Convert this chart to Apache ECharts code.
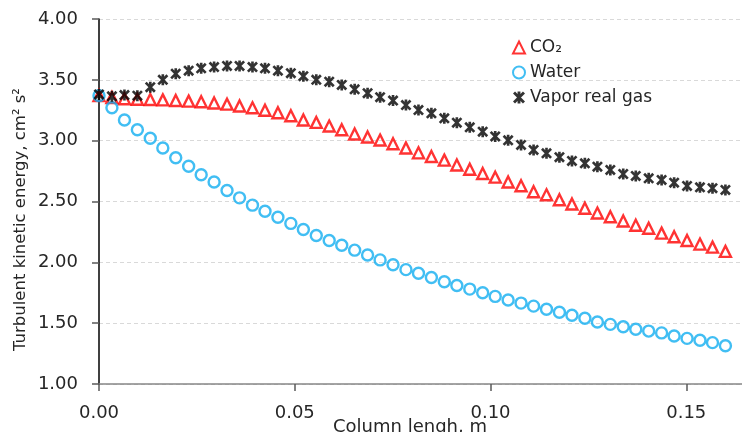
<!DOCTYPE html>
<html>
<head>
<meta charset="utf-8">
<script src="https://cdn.jsdelivr.net/npm/echarts@6/dist/echarts.min.js"></script>
<style>
html,body{margin:0;padding:0;background:#fff;}
#chart{width:742px;height:432px;}
</style>
</head>
<body>
<div id="chart"></div>
<script>
// Column length positions (m)
var columnLength = [0.0000,0.0033,0.0065,0.0098,0.0131,0.0163,0.0196,0.0229,0.0261,0.0294,
  0.0327,0.0359,0.0392,0.0424,0.0457,0.0490,0.0522,0.0555,0.0588,0.0620,
  0.0653,0.0686,0.0718,0.0751,0.0784,0.0816,0.0849,0.0882,0.0914,0.0947,
  0.0980,0.1012,0.1045,0.1078,0.1110,0.1143,0.1176,0.1208,0.1241,0.1273,
  0.1306,0.1339,0.1371,0.1404,0.1437,0.1469,0.1502,0.1535,0.1567,0.1600];

var co2 = [3.37,3.355,3.345,3.34,3.338,3.335,3.33,3.325,3.32,3.31,
  3.30,3.285,3.27,3.25,3.23,3.205,3.17,3.15,3.12,3.09,
  3.055,3.03,3.005,2.975,2.94,2.90,2.87,2.84,2.80,2.765,
  2.73,2.70,2.66,2.63,2.58,2.555,2.515,2.48,2.445,2.405,
  2.375,2.34,2.305,2.28,2.24,2.21,2.18,2.15,2.125,2.09];

var water = [3.37,3.27,3.17,3.09,3.02,2.94,2.86,2.79,2.72,2.66,
  2.59,2.53,2.47,2.42,2.37,2.32,2.27,2.22,2.18,2.14,
  2.10,2.06,2.02,1.98,1.94,1.91,1.875,1.84,1.81,1.78,
  1.75,1.72,1.69,1.665,1.64,1.615,1.59,1.565,1.54,1.51,
  1.49,1.47,1.45,1.435,1.42,1.395,1.375,1.36,1.34,1.315];

var vapor = [3.38,3.365,3.375,3.37,3.44,3.50,3.55,3.575,3.595,3.605,
  3.614,3.614,3.605,3.595,3.575,3.555,3.53,3.50,3.485,3.458,
  3.422,3.39,3.357,3.33,3.293,3.252,3.225,3.184,3.148,3.11,
  3.074,3.035,3.003,2.965,2.924,2.896,2.864,2.833,2.814,2.786,
  2.759,2.726,2.71,2.691,2.677,2.655,2.628,2.617,2.609,2.595];

var seriesNames = ['CO\u2082', 'Water', 'Vapor real gas'];
var xTickLabels = ['0.00', '0.05', '0.10', '0.15'];
var yTickLabels = ['1.00','1.50','2.00','2.50','3.00','3.50','4.00'];

function zip(xs, ys){ return xs.map(function(x,i){ return [x, ys[i]]; }); }

var starPath = 'path://M3.8,0L6.2,0L6.2,10L3.8,10Z M0,1.7L1.7,0L10,8.3L8.3,10Z M8.3,0L10,1.7L1.7,10L0,8.3Z';
var font = 'DejaVu Sans';
var txt = '#262626';

var chart = echarts.init(document.getElementById('chart'), null, {renderer:'canvas'});
chart.setOption({
  animation: false,
  backgroundColor: '#ffffff',
  textStyle: {fontFamily: font},
  grid: {left: 99, top: 19, width: 646, height: 365, containLabel: false, outerBoundsMode: 'none'},
  legend: {
    orient: 'vertical',
    left: 507, top: 34,
    itemWidth: 12, itemHeight: 12, itemGap: 8,
    textStyle: {fontFamily: font, fontSize: 17, color: txt},
    data: seriesNames
  },
  xAxis: {
    type: 'value', min: 0, max: 0.165, interval: 0.05,
    name: 'Column lengh, m', nameLocation: 'middle', nameGap: 34, nameMoveOverlap: false,
    nameTextStyle: {fontFamily: font, fontSize: 18, color: txt, padding: [0, 24, 0, 0]},
    axisLine: {show: true, onZero: false, lineStyle: {color: '#868686', width: 1.5}},
    axisTick: {show: true, length: 7, lineStyle: {color: '#595959', width: 1.5}},
    axisLabel: {show: true, margin: 20, fontFamily: font, fontSize: 18, color: txt, showMaxLabel: false,
      formatter: function(v){ var i = Math.round(v/0.05); return (Math.abs(v - i*0.05) < 1e-9 && xTickLabels[i]) ? xTickLabels[i] : ''; }},
    splitLine: {show: false}
  },
  yAxis: {
    type: 'value', min: 1, max: 4, interval: 0.5,
    name: 'Turbulent kinetic energy, cm\u00B2 s\u00B2', nameLocation: 'middle', nameGap: 70, nameRotate: 90, nameMoveOverlap: false,
    nameTextStyle: {fontFamily: font, fontSize: 16.5, color: txt, padding: [0, 36, 0, 0]},
    axisLine: {show: true, onZero: false, lineStyle: {color: '#000000', width: 1.5}},
    axisTick: {show: true, length: 7, lineStyle: {color: '#595959', width: 1.5}},
    axisLabel: {margin: 21, fontFamily: font, fontSize: 18, color: txt,
      formatter: function(v){ var i = Math.round((v-1)/0.5); return yTickLabels[i] || ''; }},
    splitLine: {show: true, lineStyle: {color: '#d9d9d9', type: [4, 3], width: 1}}
  },
  series: [
    {
      name: seriesNames[0], type: 'scatter', data: zip(columnLength, co2),
      symbol: 'triangle', symbolSize: 11,
      itemStyle: {color: 'rgba(255,255,255,0)', borderColor: '#ff0000', borderWidth: 2.4}
    },
    {
      name: seriesNames[1], type: 'scatter', data: zip(columnLength, water),
      symbol: 'circle', symbolSize: 11,
      itemStyle: {color: 'rgba(255,255,255,0)', borderColor: '#11aef0', borderWidth: 2.4}
    },
    {
      name: seriesNames[2], type: 'scatter', data: zip(columnLength, vapor),
      symbol: starPath, symbolSize: 11,
      itemStyle: {color: '#000000', borderWidth: 0}
    }
  ]
});
</script>
</body>
</html>
